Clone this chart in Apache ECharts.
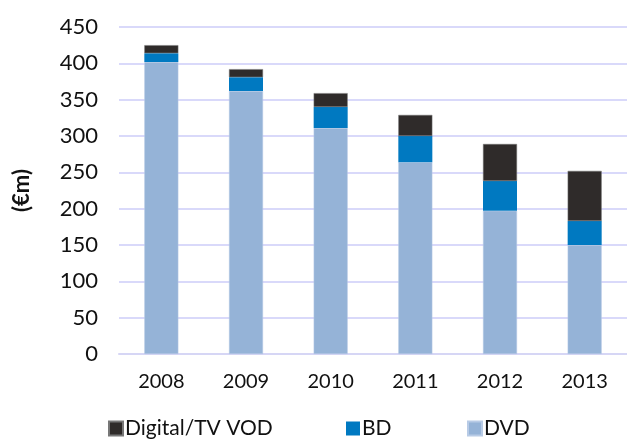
<!DOCTYPE html>
<html><head><meta charset="utf-8">
<script src="https://cdn.jsdelivr.net/npm/echarts@6/dist/echarts.min.js"></script>
<style>html,body{margin:0;padding:0;background:#fff}#c{width:627px;height:439px}</style>
</head><body><div id="c"></div>
<script>
const categories = ['2008','2009','2010','2011','2012','2013'];
const dvd = [402, 362, 311, 264, 197, 150];
const bd = [12, 19, 29, 36, 41, 33];
const digital = [11, 11, 19, 29, 51, 69];
const yTicks = {min: 0, max: 450, interval: 50};

const chart = echarts.init(document.getElementById('c'));
const font = 'Lato, "Open Sans", sans-serif';
const mkLegend = (name, left) => ({
  data: [name], left: left, top: 418, padding: 0, itemWidth: 14, itemHeight: 14, icon: 'rect',
  textStyle: {fontFamily: font, fontSize: 21, color: '#111', padding: [0,0,0,-3]}
});
chart.setOption({
  animation: false,
  grid: {left: 119, right: 0, top: 27, bottom: 85},
  legend: [mkLegend('Digital/TV VOD', 108), mkLegend('BD', 346), mkLegend('DVD', 467)],
  xAxis: {
    type: 'category', data: categories,
    axisLine: {lineStyle: {color: '#d6d6f5', width: 2}},
    axisTick: {show: false},
    axisLabel: {fontFamily: font, fontSize: 20, color: '#111', margin: 18}
  },
  yAxis: {
    type: 'value', min: yTicks.min, max: yTicks.max, interval: yTicks.interval,
    name: '(€m)', nameLocation: 'middle', nameGap: 86, nameRotate: 90,
    nameTextStyle: {fontFamily: font, fontSize: 22, fontWeight: 'bold', color: '#111'},
    axisLabel: {fontFamily: font, fontSize: 22, color: '#111', margin: 21},
    splitLine: {lineStyle: {color: '#d9d9fa', width: 2}},
    axisLine: {show: false}, axisTick: {show: false}
  },
  series: [
    {name: 'DVD', type: 'bar', stack: 't', data: dvd, barWidth: 34,
     itemStyle: {color: '#95b3d7', borderColor: '#b8cbe6', borderWidth: 0.5}},
    {name: 'BD', type: 'bar', stack: 't', data: bd, barWidth: 34,
     itemStyle: {color: '#0079c1'}},
    {name: 'Digital/TV VOD', type: 'bar', stack: 't', data: digital, barWidth: 34,
     itemStyle: {color: '#2f2b2a', borderColor: '#777', borderWidth: 0.5}}
  ]
});
</script></body></html>
